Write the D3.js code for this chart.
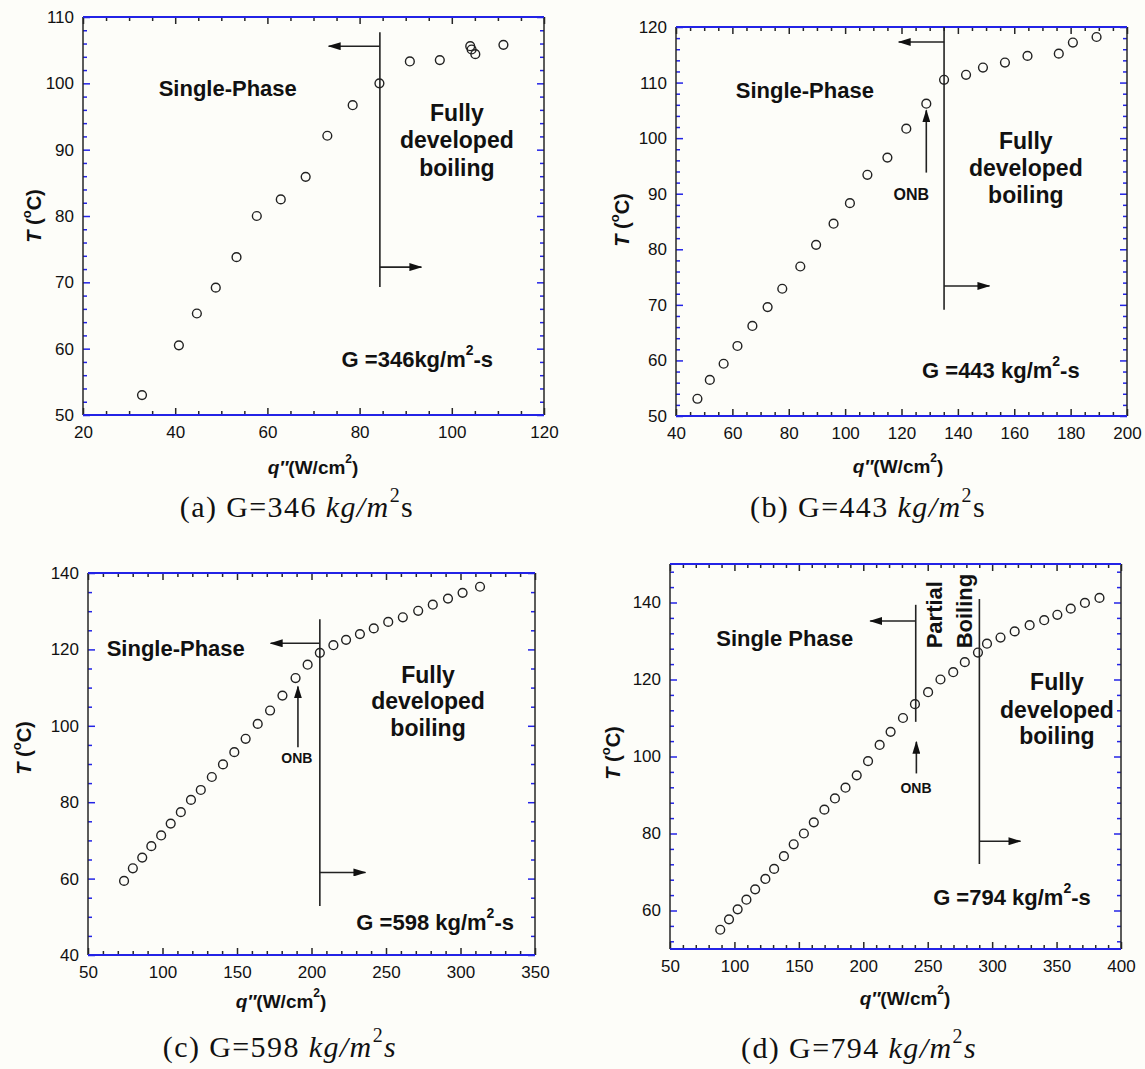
<!DOCTYPE html>
<html>
<head>
<meta charset="utf-8">
<script src="https://cdn.jsdelivr.net/npm/d3@7"></script>
<style>
  body { margin: 0; background: #fdfdf9; }
  svg { display: block; }
  .tick text { font-family: "Liberation Sans", Arial, sans-serif; font-size: 17px; fill: #111; }
  .lbl { font-family: "Liberation Sans", Arial, sans-serif; font-weight: bold; fill: #111; }
  .cap { font-family: "Liberation Serif", "Times New Roman", serif; font-size: 30px; fill: #111; letter-spacing: 1.4px; }
</style>
</head>
<body>
<svg id="fig" width="1145" height="1069"></svg>
<script>
// (a) G = 346 kg/m2-s
const qA = [32.8, 40.8, 44.7, 48.8, 53.3, 57.7, 62.9, 68.3, 73.0, 78.5, 84.3, 90.9, 97.4, 104.0, 104.3, 105.1, 111.2];
const tA = [53.0, 60.5, 65.3, 69.2, 73.8, 80.0, 82.5, 85.9, 92.1, 96.7, 100.0, 103.3, 103.5, 105.6, 105.1, 104.4, 105.8];

// (b) G = 443
const qB = [47.6, 52.0, 56.9, 61.8, 67.1, 72.5, 77.7, 84.1, 89.7, 95.9, 101.7, 107.9, 115.0, 121.7, 128.8, 135.1, 142.9, 148.9, 156.7, 164.7, 175.8, 180.8, 189.2];
const tB = [53.1, 56.5, 59.4, 62.6, 66.2, 69.6, 72.9, 76.9, 80.8, 84.6, 88.3, 93.4, 96.5, 101.7, 106.2, 110.5, 111.4, 112.7, 113.6, 114.8, 115.2, 117.2, 118.2];

// (c) G = 598
const qC = [74.2, 80.1, 86.4, 92.5, 99.1, 105.5, 112.3, 119.1, 125.7, 133.1, 140.6, 148.2, 155.8, 163.9, 172.2, 180.5, 189.3, 197.4, 205.6, 214.7, 223.2, 232.5, 241.8, 251.5, 261.3, 271.6, 281.4, 291.6, 301.4, 313.1];
const tC = [59.4, 62.7, 65.5, 68.5, 71.3, 74.4, 77.4, 80.6, 83.2, 86.6, 89.9, 93.1, 96.6, 100.5, 104.0, 107.9, 112.5, 116.0, 119.1, 121.1, 122.5, 124.0, 125.5, 127.2, 128.4, 130.1, 131.7, 133.3, 134.8, 136.4];

// (d) G = 794
const qD = [89.0, 95.8, 102.5, 109.3, 116.1, 124.0, 130.8, 138.4, 146.0, 153.9, 161.6, 169.8, 178.0, 186.2, 194.9, 203.7, 212.7, 221.2, 230.8, 240.1, 250.3, 259.9, 269.8, 278.8, 289.0, 296.0, 306.5, 317.5, 329.1, 340.4, 350.6, 361.0, 372.0, 383.3];
const tD = [55.0, 57.7, 60.3, 62.8, 65.5, 68.2, 70.8, 74.1, 77.2, 80.0, 82.9, 86.2, 89.1, 91.9, 95.1, 98.8, 103.0, 106.4, 110.0, 113.6, 116.7, 120.0, 121.9, 124.5, 127.0, 129.3, 130.9, 132.5, 134.1, 135.4, 136.8, 138.4, 139.9, 141.2];

// tick labels
const xTicksA = [20, 40, 60, 80, 100, 120];
const yTicksA = [50, 60, 70, 80, 90, 100, 110];
const xTicksB = [40, 60, 80, 100, 120, 140, 160, 180, 200];
const yTicksB = [50, 60, 70, 80, 90, 100, 110, 120];
const xTicksC = [50, 100, 150, 200, 250, 300, 350];
const yTicksC = [40, 60, 80, 100, 120, 140];
const xTicksD = [50, 100, 150, 200, 250, 300, 350, 400];
const yTicksD = [60, 80, 100, 120, 140];

const massFlux = [346, 443, 598, 794];

const svg = d3.select("#fig");
const BLUE = "#2323e6", DARK = "#262626";

svg.append("defs").append("marker")
  .attr("id", "ah").attr("viewBox", "0 0 13 8").attr("refX", 12).attr("refY", 4)
  .attr("markerWidth", 13).attr("markerHeight", 8)
  .attr("markerUnits", "userSpaceOnUse").attr("orient", "auto")
  .append("path").attr("d", "M0,0L13,4L0,8Z").attr("fill", "#111");

const panels = [
  { id: "a", G: massFlux[0], q: qA, t: tA, xt: xTicksA, yt: yTicksA, xd: [20, 120], yd: [50, 110],
    xMinor: 5, yMinor: 2, box: [83, 17, 544, 415],
    yTitle: [34, 216], xTitle: [313, 467], cap: [297, 506], sItalic: false,
    vlines: [[84.4, 107.7, 69.3]], arrows: [[84.4, 105.6, 73.3], [84.4, 72.3, 93.4]],
    onb: null, single: [51.4, 99.2, "Single-Phase"], fully: [101.1, [95.5, 91.4, 87.2]],
    gtext: [76.1, 58.4, "G =346kg/m"] },
  { id: "b", G: massFlux[1], q: qB, t: tB, xt: xTicksB, yt: yTicksB, xd: [40, 200], yd: [50, 120],
    xMinor: 5, yMinor: 2, box: [676, 27, 1127, 416],
    yTitle: [622, 220], xTitle: [898, 466], cap: [868, 506], sItalic: false,
    vlines: [[135.1, 120, 69.1]], arrows: [[135.1, 117.3, 119.0], [135.1, 73.4, 151.2]],
    onb: [128.8, 93.8, 105.0, 123.5, 89.8, 16], single: [85.7, 108.6, "Single-Phase"], fully: [164.1, [99.5, 94.7, 89.8]],
    gtext: [127.3, 58.3, "G =443 kg/m"] },
  { id: "c", G: massFlux[2], q: qC, t: tC, xt: xTicksC, yt: yTicksC, xd: [50, 350], yd: [40, 140],
    xMinor: 10, yMinor: 5, box: [88, 573, 535, 955],
    yTitle: [24, 748], xTitle: [281, 1001], cap: [280, 1046], sItalic: true,
    vlines: [[205.6, 127.9, 52.8]], arrows: [[205.6, 121.6, 172.6], [205.6, 61.6, 236.2]],
    onb: [190.9, 94.4, 110.3, 190.2, 91.5, 14], single: [108.9, 120.3, "Single-Phase"], fully: [278.2, [113.3, 106.4, 99.4]],
    gtext: [230.1, 48.7, "G =598 kg/m"] },
  { id: "d", G: massFlux[3], q: qD, t: tD, xt: xTicksD, yt: yTicksD, xd: [50, 400], yd: [50, 150],
    xMinor: 10, yMinor: 4, yMinorStart: 52, box: [670, 564, 1121, 949],
    yTitle: [613, 753], xTitle: [905, 998], cap: [859, 1047], sItalic: true,
    vlines: [[240.7, 139.4, 109.0], [290.1, 140.9, 72.1]], arrows: [[240.7, 135.2, 205.4], [290.1, 78.0, 322.0]],
    onb: [241.2, 95.6, 103.8, 240.9, 91.9, 14], single: [139.0, 130.7, "Single Phase"], fully: [350.3, [119.3, 112.2, 105.2]],
    rotated: [[255.6, 128.1, "Partial"], [278.2, 128.1, "Boiling"]],
    gtext: [254.2, 63.6, "G =794 kg/m"] }
];

function drawPanel(p) {
  const [L, T, R, B] = p.box;
  const x = d3.scaleLinear().domain(p.xd).range([L, R]);
  const y = d3.scaleLinear().domain(p.yd).range([B, T]);
  const g = svg.append("g").attr("class", "panel-" + p.id);

  const xMin = d3.range(p.xd[0], p.xd[1] + 1e-6, p.xMinor).filter(v => !p.xt.includes(v));
  const yMin = d3.range(p.yMinorStart || p.yd[0], p.yd[1] + 1e-6, p.yMinor).filter(v => !p.yt.includes(v));

  function ticks(axis, tx, ty, vals, len, color, labels, pad) {
    const a = g.append("g").attr("transform", `translate(${tx},${ty})`)
      .call(axis.tickValues(vals).tickSizeInner(-len).tickSizeOuter(0)
        .tickPadding(pad || 3).tickFormat(labels ? d3.format("d") : ""));
    a.select(".domain").remove();
    a.selectAll(".tick line").attr("stroke", color).attr("stroke-width", 1.5);
    return a;
  }
  // bottom / top
  ticks(d3.axisBottom(x), 0, B, p.xt, 7, DARK, true, 11);
  ticks(d3.axisBottom(x), 0, B, xMin, 4, DARK, false);
  ticks(d3.axisTop(x), 0, T, p.xt, 7, DARK, false);
  ticks(d3.axisTop(x), 0, T, xMin, 4, DARK, false);
  // left / right
  ticks(d3.axisLeft(y), L, 0, p.yt, 7, BLUE, true, 9);
  ticks(d3.axisLeft(y), L, 0, yMin, 4, BLUE, false);
  ticks(d3.axisRight(y), R, 0, p.yt, 7, BLUE, false);
  ticks(d3.axisRight(y), R, 0, yMin, 4, BLUE, false);

  // frame
  g.append("line").attr("x1", L).attr("x2", L).attr("y1", T).attr("y2", B).attr("stroke", DARK).attr("stroke-width", 1.5);
  g.append("line").attr("x1", R).attr("x2", R).attr("y1", T).attr("y2", B).attr("stroke", DARK).attr("stroke-width", 1.5);
  g.append("line").attr("x1", L).attr("x2", R).attr("y1", T).attr("y2", T).attr("stroke", BLUE).attr("stroke-width", 1.8);
  g.append("line").attr("x1", L).attr("x2", R).attr("y1", B).attr("y2", B).attr("stroke", BLUE).attr("stroke-width", 1.8);

  // region dividers and arrows
  p.vlines.forEach(v => {
    g.append("line").attr("x1", x(v[0])).attr("x2", x(v[0])).attr("y1", y(v[1])).attr("y2", y(v[2]))
      .attr("stroke", "#222").attr("stroke-width", 1.6);
  });
  p.arrows.forEach(a => {
    g.append("line").attr("x1", x(a[0])).attr("x2", x(a[2])).attr("y1", y(a[1])).attr("y2", y(a[1]))
      .attr("stroke", "#222").attr("stroke-width", 1.6).attr("marker-end", "url(#ah)");
  });
  if (p.onb) {
    const o = p.onb;
    g.append("line").attr("x1", x(o[0])).attr("x2", x(o[0])).attr("y1", y(o[1])).attr("y2", y(o[2]))
      .attr("stroke", "#222").attr("stroke-width", 1.6).attr("marker-end", "url(#ah)");
    g.append("text").attr("class", "lbl").attr("font-size", o[5])
      .attr("x", x(o[3])).attr("y", y(o[4])).attr("text-anchor", "middle").attr("dominant-baseline", "central")
      .text("ONB");
  }

  // data points
  g.selectAll("circle.pt").data(d3.zip(p.q, p.t)).join("circle").attr("class", "pt")
    .attr("cx", d => x(d[0])).attr("cy", d => y(d[1])).attr("r", 4.4)
    .attr("fill", "none").attr("stroke", "#222").attr("stroke-width", 1.4);

  // region labels
  g.append("text").attr("class", "lbl").attr("font-size", 22)
    .attr("x", x(p.single[0])).attr("y", y(p.single[1]))
    .attr("text-anchor", "middle").attr("dominant-baseline", "central").text(p.single[2]);
  ["Fully", "developed", "boiling"].forEach((w, i) => {
    g.append("text").attr("class", "lbl").attr("font-size", 23)
      .attr("x", x(p.fully[0])).attr("y", y(p.fully[1][i]))
      .attr("text-anchor", "middle").attr("dominant-baseline", "central").text(w);
  });
  (p.rotated || []).forEach(r => {
    g.append("text").attr("class", "lbl").attr("font-size", 22)
      .attr("transform", `translate(${x(r[0])},${y(r[1])}) rotate(-90)`)
      .attr("dominant-baseline", "central").text(r[2]);
  });
  const gt = g.append("text").attr("class", "lbl").attr("font-size", 22)
    .attr("x", x(p.gtext[0])).attr("y", y(p.gtext[1])).attr("dominant-baseline", "central");
  gt.append("tspan").text(p.gtext[2]);
  gt.append("tspan").attr("font-size", 14).attr("dy", -9).text("2");
  gt.append("tspan").attr("dy", 9).text("-s");

  // axis titles
  const yt = g.append("text").attr("class", "lbl").attr("font-size", 20)
    .attr("transform", `translate(${p.yTitle[0]},${p.yTitle[1]}) rotate(-90)`)
    .attr("text-anchor", "middle").attr("dominant-baseline", "central");
  yt.append("tspan").attr("font-style", "italic").text("T");
  yt.append("tspan").text(" (");
  yt.append("tspan").attr("font-size", 13).attr("dy", -8).text("o");
  yt.append("tspan").attr("dy", 8).text("C)");

  const xt = g.append("text").attr("class", "lbl").attr("font-size", 19)
    .attr("x", p.xTitle[0]).attr("y", p.xTitle[1])
    .attr("text-anchor", "middle").attr("dominant-baseline", "central");
  xt.append("tspan").attr("font-style", "italic").text("q\u2033");
  xt.append("tspan").text("(W/cm");
  xt.append("tspan").attr("font-size", 12).attr("dy", -8).text("2");
  xt.append("tspan").attr("dy", 8).text(")");

  // caption
  const c = svg.append("text").attr("class", "cap")
    .attr("x", p.cap[0]).attr("y", p.cap[1])
    .attr("text-anchor", "middle").attr("dominant-baseline", "central");
  c.append("tspan").text(`(${p.id}) G=${p.G} `);
  c.append("tspan").attr("font-style", "italic").text("kg/m");
  c.append("tspan").attr("font-size", 20).attr("dy", -11).text("2");
  c.append("tspan").attr("dy", 11).attr("font-style", p.sItalic ? "italic" : "normal").text("s");
}

panels.forEach(drawPanel);
</script>
</body>
</html>
